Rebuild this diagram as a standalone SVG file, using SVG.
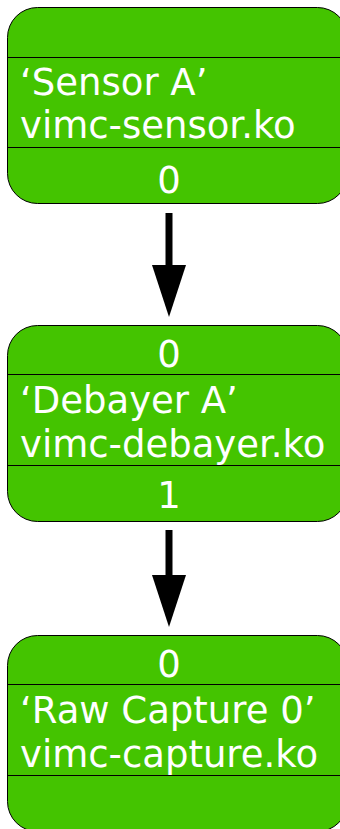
<svg xmlns="http://www.w3.org/2000/svg" width="340" height="829" viewBox="0 0 340 829">
<style>
.box{fill:#44c400;stroke:#000;stroke-width:1}
.div{stroke:#000;stroke-width:1}
text{font-family:"DejaVu Sans",sans-serif;font-size:37px;fill:#fff}
.c{text-anchor:middle}
.edge{stroke:#000;stroke-width:7;fill:none}
</style>
<defs>
<marker id="ah" markerUnits="userSpaceOnUse" markerWidth="52" markerHeight="34" refX="0" refY="17" orient="auto" viewBox="0 0 52 34">
<path d="M0,0 L52,17 L0,34 Z" fill="#000"/>
</marker>
</defs>
<rect width="340" height="829" fill="#fff"/>
<g id="connectors">
<path class="edge" d="M169,213 V265" marker-end="url(#ah)"/>
<path class="edge" d="M169,530 V575" marker-end="url(#ah)"/>
</g>
<g id="sensor">
<rect class="box" x="7.5" y="7.5" width="340" height="196" rx="30" ry="30"/>
<line class="div" x1="7.5" y1="57.5" x2="340" y2="57.5"/>
<line class="div" x1="7.5" y1="147.5" x2="340" y2="147.5"/>
<text x="20" y="95">‘Sensor A’</text>
<text x="20" y="138">vimc-sensor.ko</text>
<text class="c" x="169" y="193">0</text>
</g>
<g id="debayer">
<rect class="box" x="7.5" y="325.5" width="340" height="196" rx="30" ry="30"/>
<line class="div" x1="7.5" y1="374.5" x2="340" y2="374.5"/>
<line class="div" x1="7.5" y1="465.5" x2="340" y2="465.5"/>
<text class="c" x="169" y="367">0</text>
<text x="20" y="413">‘Debayer A’</text>
<text x="20" y="457">vimc-debayer.ko</text>
<text class="c" x="169" y="508">1</text>
</g>
<g id="capture">
<rect class="box" x="7.5" y="635.5" width="340" height="196" rx="30" ry="30"/>
<line class="div" x1="7.5" y1="684.5" x2="340" y2="684.5"/>
<line class="div" x1="7.5" y1="775.5" x2="340" y2="775.5"/>
<text class="c" x="169" y="677">0</text>
<text x="20" y="723">‘Raw Capture 0’</text>
<text x="20" y="767">vimc-capture.ko</text>
</g>
</svg>
